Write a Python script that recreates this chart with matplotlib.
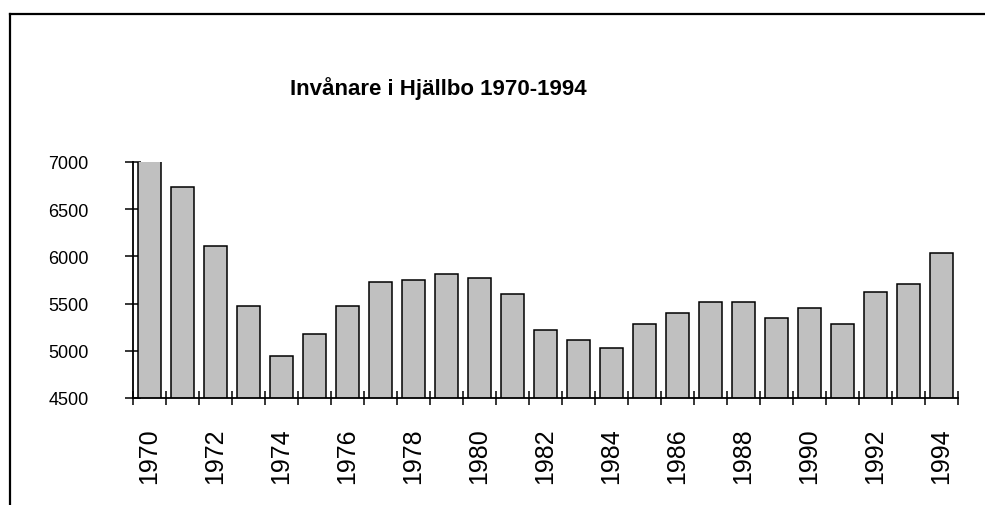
import numpy as np
import matplotlib
matplotlib.use("Agg")
import matplotlib.pyplot as plt
from matplotlib.lines import Line2D

plt.rcParams['font.family'] = ['Liberation Sans', 'DejaVu Sans']

years = list(range(1970, 1995))
# inhabitants per year (1970 runs past the top of the axis)
invanare = [7200, 6740, 6110, 5470, 4940, 5175, 5470, 5725, 5745, 5810,
            5770, 5600, 5215, 5110, 5025, 5280, 5405, 5515, 5515, 5345,
            5450, 5280, 5620, 5705, 6040]
yticks = [4500, 5000, 5500, 6000, 6500, 7000]
title = "Invånare i Hjällbo 1970-1994"

fig = plt.figure(figsize=(9.85, 5.06), dpi=100)
ax = fig.add_axes([0.135, 0.2115, 0.8376, 0.4664])

x = np.arange(len(years))
ax.bar(x, invanare, width=0.67, color='#c0c0c0', edgecolor='black',
       linewidth=1.1, zorder=2)

ax.set_xlim(-0.5, len(years) - 0.5)
ax.set_ylim(4500, 7000)

ax.set_yticks(yticks)
ax.set_yticklabels([str(v) for v in yticks], fontsize=13)
ax.tick_params(axis='y', direction='inout', length=11, width=1.1, pad=26.5)

# tick marks between categories, labels on every other year
ax.set_xticks(np.arange(len(years) + 1) - 0.5)
ax.set_xticklabels([])
ax.tick_params(axis='x', which='major', direction='inout', length=10, width=1.1)
ax.set_xticks(x[::2], minor=True)
ax.set_xticklabels([str(y) for y in years[::2]], minor=True,
                   rotation=90, fontsize=18)
ax.tick_params(axis='x', which='minor', length=0, pad=21)

for s in ['top', 'right']:
    ax.spines[s].set_visible(False)
for s in ['left', 'bottom']:
    ax.spines[s].set_linewidth(1.3)
    ax.spines[s].set_zorder(3)

fig.text(0.445, 0.826, title, fontsize=16, fontweight='bold',
         ha='center', va='center')

# outer frame (top and left edges)
fig.add_artist(Line2D([10 / 985, 1.0], [1 - 15 / 506, 1 - 15 / 506],
                      color='black', linewidth=1.6))
fig.add_artist(Line2D([10 / 985, 10 / 985], [1 - 15 / 506, 0.0],
                      color='black', linewidth=1.6))

fig.savefig('out.png', dpi=100)
